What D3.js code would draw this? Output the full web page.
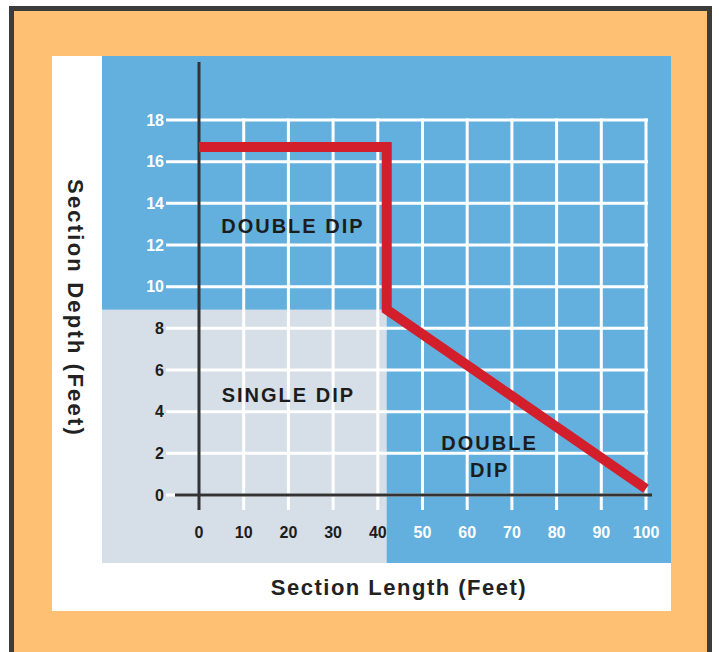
<!DOCTYPE html>
<html>
<head>
<meta charset="utf-8">
<script src="https://cdn.jsdelivr.net/npm/d3@7"></script>
<style>
  body { margin: 0; background: #fff; }
  text { font-family: "Liberation Sans", Arial, Helvetica, sans-serif; font-weight: bold; }
</style>
</head>
<body>
<svg id="chart"></svg>
<script>
// chart data
const xTicks = [0, 10, 20, 30, 40, 50, 60, 70, 80, 90, 100]
const yTicks = [0, 2, 4, 6, 8, 10, 12, 14, 16, 18]
const limitLength = [0, 42, 42, 100]
const limitDepth = [16.7, 16.7, 8.9, 0.3]
const regionNames = ['DOUBLE DIP', 'SINGLE DIP', 'DOUBLE', 'DIP']
const regionLength = [21, 20, 65, 65]
const regionDepth = [12.9, 4.8, 2.5, 1.2]
const xTitle = 'Section Length (Feet)'
const yTitle = 'Section Depth (Feet)'

const W = 719, H = 652
const blue = '#63b0de', grey = '#d6dee7', dark = '#1c1c1c'

const svg = d3.select('#chart').attr('width', W).attr('height', H)

const x = d3.scaleLinear().domain([0, 100]).range([199, 646])
const y = d3.scaleLinear().domain([0, 18]).range([495, 120])

// corner where single dip ends
const cornerX = limitLength[2], cornerY = limitDepth[2]

// frame
svg.append('rect')
    .attr('x', 11.5).attr('y', 8.5)
    .attr('width', 698).attr('height', 665)
    .attr('fill', '#fec073')
    .attr('stroke', '#3c3c3c')
    .attr('stroke-width', 5)

svg.append('rect')
    .attr('x', 52).attr('y', 56)
    .attr('width', 619).attr('height', 555)
    .attr('fill', '#fff')

svg.append('rect')
    .attr('x', 102).attr('y', 56)
    .attr('width', 569).attr('height', 507)
    .attr('fill', blue)

svg.append('rect')
    .attr('x', 102).attr('y', y(cornerY))
    .attr('width', x(cornerX) - 102).attr('height', 563 - y(cornerY))
    .attr('fill', grey)

// grid
const grid = svg.append('g').attr('stroke', '#fff').attr('stroke-width', 3)

grid.selectAll('line.h')
    .data(yTicks)
    .join('line')
        .attr('class', 'h')
        .attr('x1', x(0) - 33).attr('x2', x(100) + 2)
        .attr('y1', d => y(d)).attr('y2', d => y(d))

grid.selectAll('line.v')
    .data(xTicks.filter(d => d > 0))
    .join('line')
        .attr('class', 'v')
        .attr('x1', d => x(d)).attr('x2', d => x(d))
        .attr('y1', y(18) - 1.5).attr('y2', y(0) + 15)

// axes
svg.append('line')
    .attr('x1', x(0) - 24).attr('x2', x(100) + 6)
    .attr('y1', y(0)).attr('y2', y(0))
    .attr('stroke', '#333').attr('stroke-width', 3)

svg.append('line')
    .attr('x1', x(0)).attr('x2', x(0))
    .attr('y1', 62).attr('y2', y(0) + 15)
    .attr('stroke', '#333').attr('stroke-width', 3)

// tick labels
svg.append('g').selectAll('text')
    .data(yTicks)
    .join('text')
        .attr('x', x(0) - 35)
        .attr('y', d => y(d))
        .attr('dy', '0.36em')
        .attr('text-anchor', 'end')
        .style('font-size', '16px')
        .attr('fill', d => d > cornerY ? '#fff' : dark)
        .text(d => d)

svg.append('g').selectAll('text')
    .data(xTicks)
    .join('text')
        .attr('x', d => x(d))
        .attr('y', 532)
        .attr('dy', '0.36em')
        .attr('text-anchor', 'middle')
        .style('font-size', '16px')
        .attr('fill', d => d > cornerX ? '#fff' : dark)
        .text(d => d)

// limit line
const limit = d3.line()
    .x(d => x(d[0]))
    .y(d => y(d[1]))

svg.append('path')
    .datum(limitLength.map((d, i) => [d, limitDepth[i]]))
    .attr('d', limit)
    .attr('fill', 'none')
    .attr('stroke', '#d21f2b')
    .attr('stroke-width', 10)
    .attr('stroke-linejoin', 'miter')

// region labels
svg.append('g').selectAll('text')
    .data(regionNames)
    .join('text')
        .attr('x', (d, i) => x(regionLength[i]))
        .attr('y', (d, i) => y(regionDepth[i]))
        .attr('dy', '0.36em')
        .attr('text-anchor', 'middle')
        .style('font-size', '20px')
        .style('letter-spacing', '2px')
        .attr('fill', dark)
        .text(d => d)

// axis titles
svg.append('text')
    .attr('x', 399).attr('y', 587)
    .attr('dy', '0.36em')
    .attr('text-anchor', 'middle')
    .style('font-size', '22px')
    .style('letter-spacing', '1.5px')
    .attr('fill', '#222')
    .text(xTitle)

svg.append('text')
    .attr('transform', 'translate(76,308) rotate(90)')
    .attr('dy', '0.36em')
    .attr('text-anchor', 'middle')
    .style('font-size', '22px')
    .style('letter-spacing', '2.2px')
    .attr('fill', '#222')
    .text(yTitle)
</script>
</body>
</html>
